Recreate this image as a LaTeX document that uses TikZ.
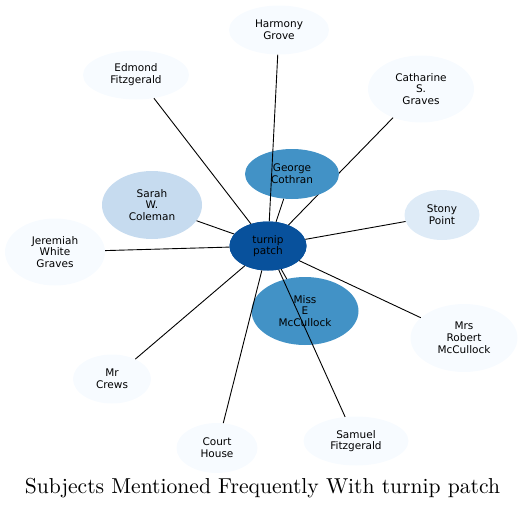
\documentclass[tikz,border=0pt]{standalone}
\usepackage{fontspec}
\newfontfamily\nodefont{DejaVu Sans}
\newfontfamily\titlefont{lmroman10-regular}[Extension=.otf]
\usetikzlibrary{shapes.geometric}
\definecolor{b0}{HTML}{F7FBFF}
\definecolor{b1}{HTML}{DEEBF7}
\definecolor{b2}{HTML}{C6DBEF}
\definecolor{b4}{HTML}{4292C6}
\definecolor{b6}{HTML}{08519C}
\tikzset{
  ent/.style={ellipse, inner sep=0pt, align=center, text=black,
    font=\nodefont\fontsize{10.5}{11.8}\selectfont},
  link/.style={draw=black, line width=0.9pt}
}
\begin{document}
\begin{tikzpicture}[x=1pt,y=-1pt]
\useasboundingbox (0,0) rectangle (528,509);
\node[ent, fill=b0, minimum width=106pt, minimum height=67pt] (csg) at (421,89) {Catharine\\S.\\Graves};
\node[ent, fill=b6, minimum width=77pt, minimum height=49pt] (tp0) at (268,246) {};
\draw[link] (csg) -- (tp0);
\node[ent, fill=b4, minimum width=94pt, minimum height=50pt] (gc) at (292,174) {George\\Cothran};
\node[ent, fill=b2, minimum width=100pt, minimum height=68pt] (swc) at (152,205) {Sarah\\W.\\Coleman};
\node[ent, fill=b0, minimum width=100pt, minimum height=49pt] (hg) at (279,30) {Harmony\\Grove};
\node[ent, fill=b0, minimum width=106pt, minimum height=49pt] (ef) at (136,75) {Edmond\\Fitzgerald};
\node[ent, fill=b1, minimum width=75pt, minimum height=50pt] (sp) at (442,215) {Stony\\Point};
\node[ent, fill=b0, minimum width=100pt, minimum height=67pt] (jwg) at (55,252) {Jeremiah\\White\\Graves};
\node[ent, fill=b4, minimum width=107pt, minimum height=68pt] (mem) at (305,311) {Miss\\E\\McCullock};
\node[ent, fill=b0, minimum width=107pt, minimum height=68pt] (mrm) at (464,338) {Mrs\\Robert\\McCullock};
\node[ent, fill=b0, minimum width=78pt, minimum height=49pt] (mc) at (112,379) {Mr\\Crews};
\node[ent, fill=b0, minimum width=81pt, minimum height=50pt] (ch) at (217,448) {Court\\House};
\node[ent, fill=b0, minimum width=105pt, minimum height=49pt] (sf) at (356,441) {Samuel\\Fitzgerald};
\node[ent, fill=b6, minimum width=77pt, minimum height=49pt] (tp) at (268,246) {turnip\\patch};
\draw[link] (gc) -- (tp);
\draw[link] (swc) -- (tp);
\draw[link] (hg) -- (tp);
\draw[link] (ef) -- (tp);
\draw[link] (sp) -- (tp);
\draw[link] (jwg) -- (tp);
\draw[link] (mem) -- (tp);
\draw[link] (mrm) -- (tp);
\draw[link] (mc) -- (tp);
\draw[link] (ch) -- (tp);
\draw[link] (sf) -- (tp);
\node[font=\titlefont\fontsize{21.6}{25}\selectfont, anchor=base, inner sep=0pt] (title) at (262.5,493) {Subjects Mentioned Frequently With turnip patch};
\end{tikzpicture}
\end{document}
